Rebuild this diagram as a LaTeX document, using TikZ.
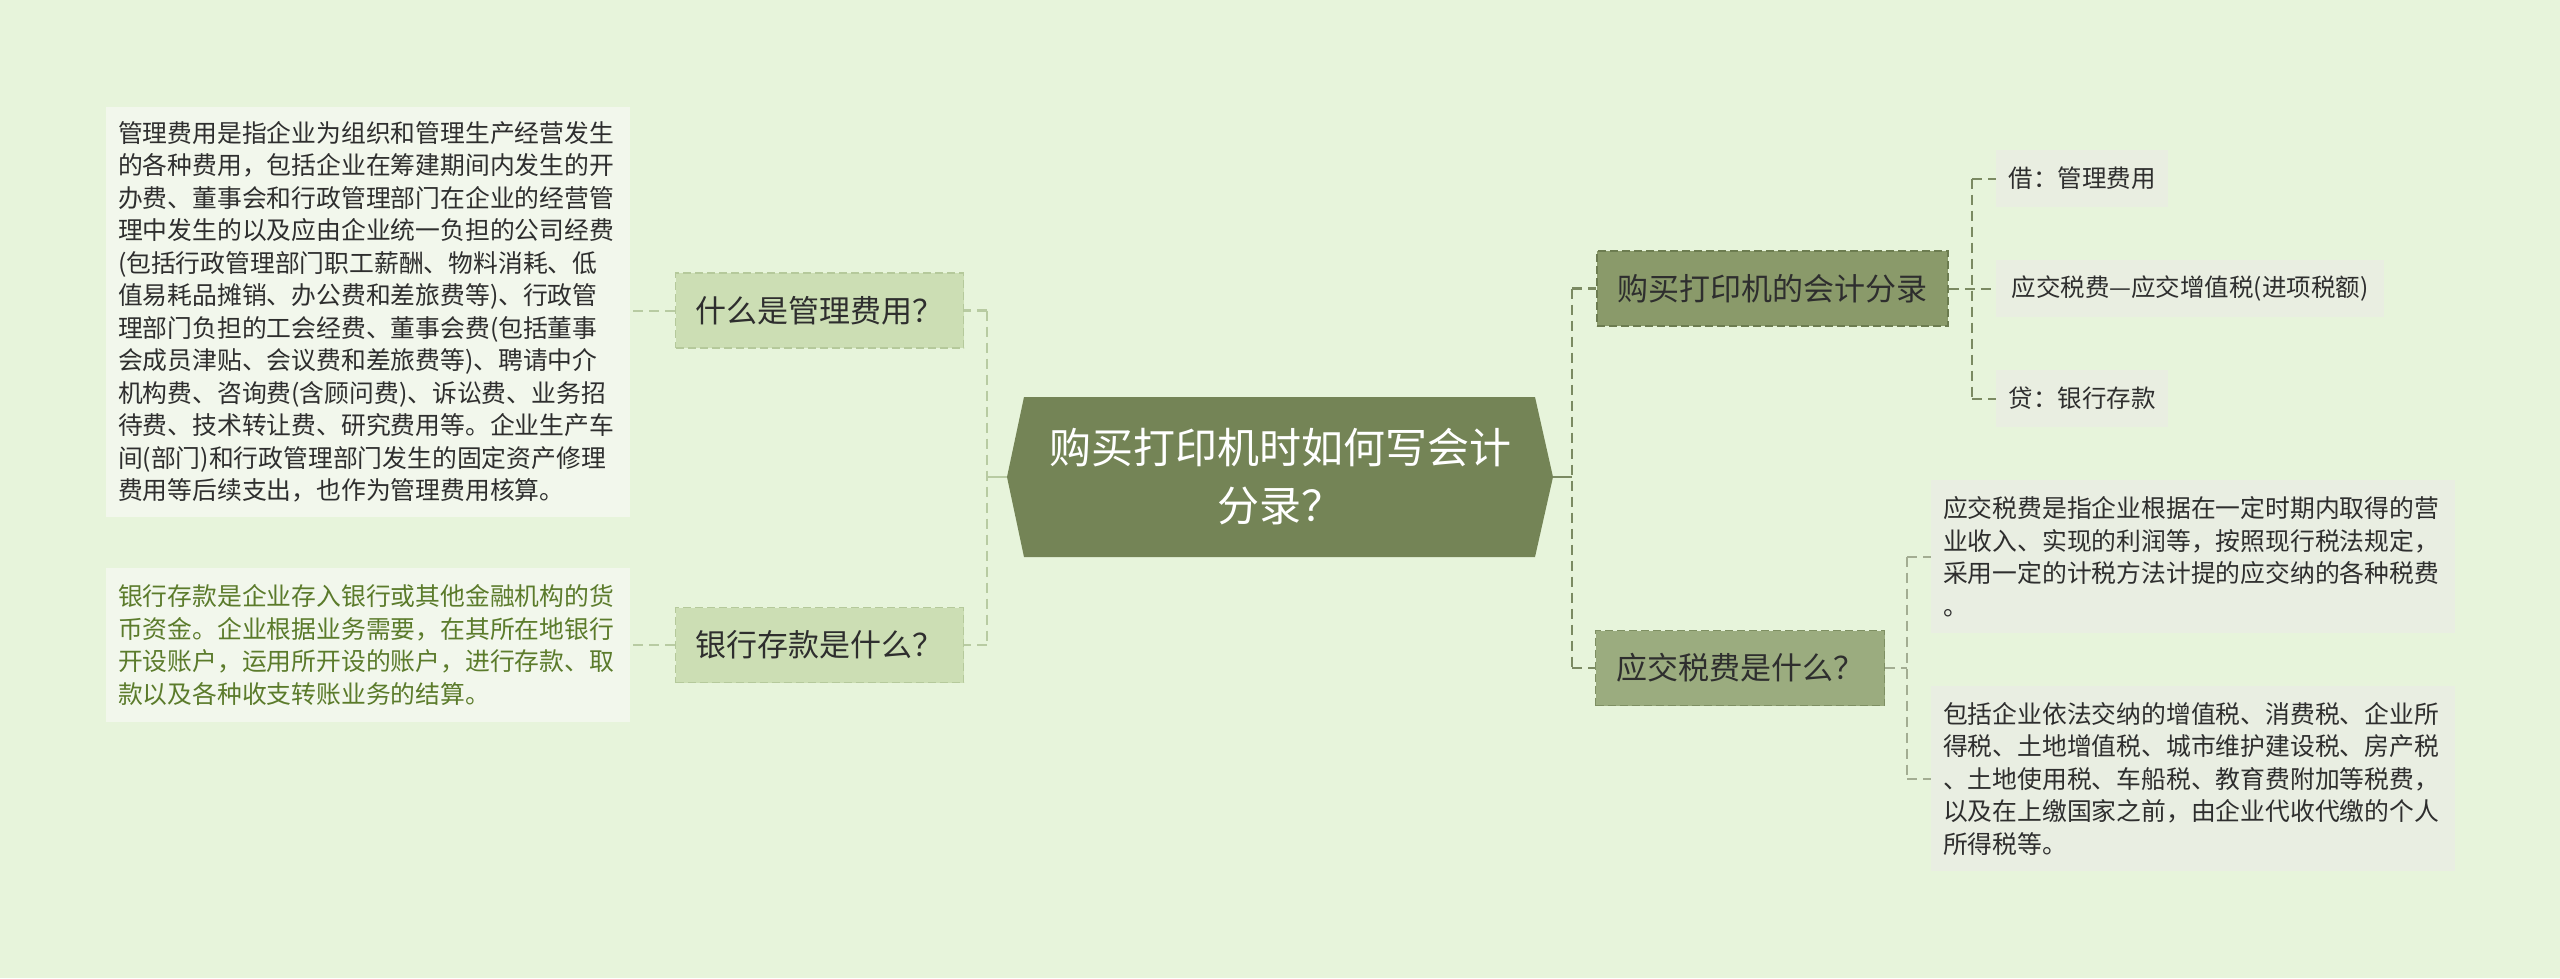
\documentclass[tikz,border=0pt]{standalone}
\usepackage{fontspec}
\setmainfont{Noto Sans CJK SC}
\definecolor{bg}{HTML}{E7F4DB}
\definecolor{rootfill}{HTML}{748456}
\definecolor{qfill}{HTML}{CCDEB4}
\definecolor{qline}{HTML}{B5C99B}
\definecolor{r1fill}{HTML}{8A9A6A}
\definecolor{r1line}{HTML}{6C7C50}
\definecolor{r2fill}{HTML}{9BAC7F}
\definecolor{r2line}{HTML}{7E8F62}
\definecolor{leaffill}{HTML}{E9EEE1}
\definecolor{ltfill}{HTML}{F2F7EC}
\definecolor{rtfill}{HTML}{E9EEE2}
\definecolor{txt}{HTML}{2E2E2E}
\definecolor{greentxt}{HTML}{5B7B2B}
\definecolor{lline}{HTML}{B8CBA2}
\definecolor{rline}{HTML}{7B8A62}
\definecolor{subline}{HTML}{A3AD92}
\begin{document}
\begin{tikzpicture}[x=1pt,y=1pt,
  qbox/.style={fill=qfill, draw=qline, dash pattern=on 8pt off 4pt, line width=1.5pt,
    minimum width=288pt, minimum height=75pt, text=txt, inner sep=0pt,
    font=\fontsize{31}{36}\selectfont},
  rbox/.style={qbox, minimum width=289pt},
  leaf/.style={fill=leaffill, minimum height=57pt, inner sep=0pt, text=txt,
    font=\fontsize{24.5}{30}\selectfont},
  textblock/.style={inner xsep=12pt, inner ysep=0pt, text width=500pt, align=left,
    minimum width=524pt, text=txt, font=\fontsize{24.8}{32.5}\selectfont},
  conn/.style={line width=2.5pt, dash pattern=on 10pt off 6pt},
  solidconn/.style={line width=2.5pt},
  subconn/.style={line width=2pt, dash pattern=on 10pt off 6pt}
]
\useasboundingbox[fill=bg] (0,0) rectangle (2560,-978);

% root hexagon
\fill[rootfill] (1007,-477) -- (1024,-397) -- (1535,-397) -- (1553,-477) -- (1535,-557) -- (1024,-557) -- cycle;
\node[minimum width=546pt, minimum height=160pt, inner sep=0pt, text=white, align=center,
  font=\fontsize{42}{58}\selectfont] (root) at (1280,-477) {购买打印机时如何写会计\\分录？};
\coordinate (rootW) at (1007,-477);
\coordinate (rootE) at (1553,-477);

% left side
\node[qbox] (q1) at (819.5,-310.5) {什么是管理费用？};
\node[qbox] (q2) at (819.5,-645) {银行存款是什么？};
\node[textblock, fill=ltfill, minimum height=410pt] (t1) at (368,-312) {管理费用是指企业为组织和管理生产经营发生\\的各种费用，包括企业在筹建期间内发生的开\\办费、董事会和行政管理部门在企业的经营管\\理中发生的以及应由企业统一负担的公司经费\\(包括行政管理部门职工薪酬、物料消耗、低\\值易耗品摊销、办公费和差旅费等)、行政管\\理部门负担的工会经费、董事会费(包括董事\\会成员津贴、会议费和差旅费等)、聘请中介\\机构费、咨询费(含顾问费)、诉讼费、业务招\\待费、技术转让费、研究费用等。企业生产车\\间(部门)和行政管理部门发生的固定资产修理\\费用等后续支出，也作为管理费用核算。};
\node[textblock, fill=ltfill, minimum height=154pt, text=greentxt] (t2) at (368,-645) {银行存款是企业存入银行或其他金融机构的货\\币资金。企业根据业务需要，在其所在地银行\\开设账户，运用所开设的账户，进行存款、取\\款以及各种收支转账业务的结算。};

\coordinate (jl) at (987,-477);
\coordinate (jl1) at (987,-310.5);
\coordinate (jl2) at (987,-645);
\draw[solidconn, lline] (rootW) -- (jl);
\draw[conn, lline] (jl1) -- (jl2);
\draw[conn, lline] (jl1) -- (q1.east);
\draw[conn, lline] (jl2) -- (q2.east);
\draw[subconn, lline] (q1.west) -- (t1.east |- q1.west);
\draw[subconn, lline] (q2.west) -- (t2.east |- q2.west);

% right side
\node[rbox, fill=r1fill, draw=r1line, minimum width=351pt] (r1) at (1772.5,-288.5) {购买打印机的会计分录};
\node[rbox, fill=r2fill, draw=r2line] (r2) at (1740,-668) {应交税费是什么？};

\coordinate (jr) at (1572,-477);
\coordinate (jr1) at (1572,-288.5);
\coordinate (jr2) at (1572,-668);
\draw[solidconn, rline] (rootE) -- (jr);
\draw[conn, rline] (jr1) -- (jr2);
\draw[conn, rline] (jr1) -- (r1.west);
\draw[conn, rline] (jr2) -- (r2.west);

\node[leaf, minimum width=172pt] (l1) at (2082,-178.5) {借：管理费用};
\node[leaf, minimum width=388pt] (l2) at (2190,-288.5) {应交税费—应交增值税(进项税额)};
\node[leaf, minimum width=172pt] (l3) at (2082,-398.5) {贷：银行存款};

\coordinate (js1) at (1972,-178.5);
\coordinate (js3) at (1972,-398.5);
\draw[subconn, rline] (js1) -- (js3);
\draw[subconn, rline] (js1) -- (l1.west);
\draw[subconn, rline] (r1.east) -- (l2.west);
\draw[subconn, rline] (js3) -- (l3.west);

\node[textblock, fill=rtfill, minimum height=153pt] (t3) at (2193,-556.5) {应交税费是指企业根据在一定时期内取得的营\\业收入、实现的利润等，按照现行税法规定，\\采用一定的计税方法计提的应交纳的各种税费\\。};
\node[textblock, fill=rtfill, minimum height=185pt] (t4) at (2193,-778.5) {包括企业依法交纳的增值税、消费税、企业所\\得税、土地增值税、城市维护建设税、房产税\\、土地使用税、车船税、教育费附加等税费，\\以及在上缴国家之前，由企业代收代缴的个人\\所得税等。};

\coordinate (jt1) at (1907,-556.5);
\coordinate (jt2) at (1907,-778.5);
\coordinate (jt0) at (1907,-668);
\draw[subconn, subline] (jt1) -- (jt2);
\draw[subconn, subline] (r2.east) -- (jt0);
\draw[subconn, subline] (jt1) -- (t3.west);
\draw[subconn, subline] (jt2) -- (t4.west);
\end{tikzpicture}
\end{document}
